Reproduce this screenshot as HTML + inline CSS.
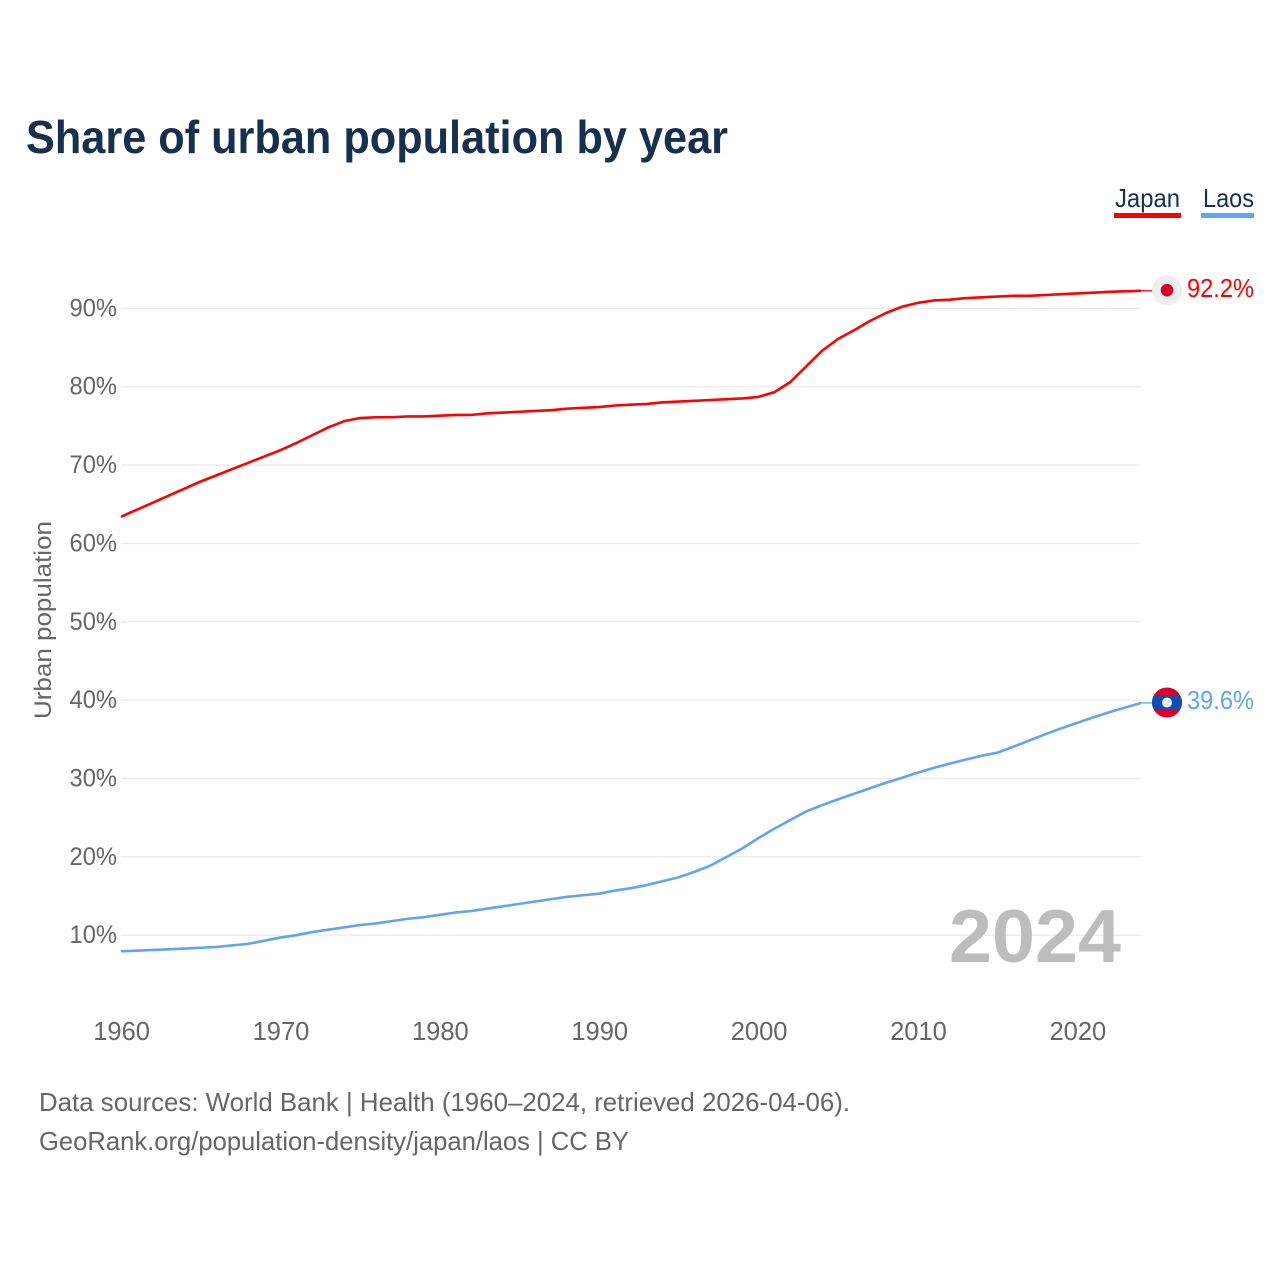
<!DOCTYPE html>
<html lang="en">
<head>
<meta charset="utf-8">
<title>Share of urban population by year</title>
<style>
html,body{margin:0;padding:0;background:#fff;width:1280px;height:1280px;overflow:hidden}
svg{display:block;font-family:"Liberation Sans",sans-serif}
</style>
</head>
<body>
<svg id="chart" xmlns="http://www.w3.org/2000/svg" width="1280" height="1280" viewBox="0 0 1280 1280">
  <defs>
    <clipPath id="laos-clip"><circle id="laos-clip-circle" cx="1167" cy="703" r="15"></circle></clipPath>
  </defs>
  <rect x="0" y="0" width="1280" height="1280" fill="#fff"></rect>
  <text x="26" y="153" font-size="46" font-weight="700" fill="#17304f" textLength="702" lengthAdjust="spacingAndGlyphs">Share of urban population by year</text>

  <text x="1115" y="207" font-size="26" fill="#17304f" textLength="65" lengthAdjust="spacingAndGlyphs">Japan</text>
  <rect x="1114" y="213" width="67" height="5" fill="#ff0000"></rect>
  <text x="1203" y="207" font-size="26" fill="#17304f" textLength="51" lengthAdjust="spacingAndGlyphs">Laos</text>
  <rect x="1201" y="213" width="53" height="5" fill="#60a5ee"></rect>

  <g id="grid"></g>
  <g id="y-ticks"></g>
  <g id="x-ticks"></g>
  <text transform="translate(51 620) rotate(-90)" text-anchor="middle" font-size="24" fill="#666" textLength="198" lengthAdjust="spacingAndGlyphs">Urban population</text>

  <text x="949" y="962" font-size="75" font-weight="700" fill="#bdbdbd" textLength="172" lengthAdjust="spacingAndGlyphs">2024</text>

  <g id="series"></g>

  <g id="marker-japan">
    <circle id="japan-flag-bg" cx="1167" cy="290" r="15" fill="#eeeeee"></circle>
    <circle id="japan-flag-dot" cx="1167" cy="290" r="6.3" fill="#d5002d"></circle>
  </g>
  <g id="marker-laos" clip-path="url(#laos-clip)">
    <rect id="laos-flag-red" x="1152" y="688" width="30" height="30" fill="#dc0028"></rect>
    <rect id="laos-flag-blue" x="1152" y="696" width="30" height="14" fill="#0a50b0"></rect>
    <circle id="laos-flag-dot" cx="1167" cy="703" r="5" fill="#eeeeee"></circle>
  </g>
  <g id="end-labels"></g>

  <text x="39" y="1111" font-size="26" fill="#666" textLength="811" lengthAdjust="spacingAndGlyphs">Data sources: World Bank | Health (1960–2024, retrieved 2026-04-06).</text>
  <text x="39" y="1150" font-size="26" fill="#666" textLength="590" lengthAdjust="spacingAndGlyphs">GeoRank.org/population-density/japan/laos | CC BY</text>
</svg>
<script>
const startYear = 1960;
const yTickValues = [10, 20, 30, 40, 50, 60, 70, 80, 90];
const xTickYears = [1960, 1970, 1980, 1990, 2000, 2010, 2020];
const japanValues = [63.4, 64.3, 65.2, 66.1, 67.0, 67.9, 68.7, 69.5, 70.3, 71.1, 71.9, 72.8, 73.8, 74.8, 75.6, 76.0, 76.1, 76.1, 76.2, 76.2, 76.3, 76.4, 76.4, 76.6, 76.7, 76.8, 76.9, 77.0, 77.2, 77.3, 77.4, 77.6, 77.7, 77.8, 78.0, 78.1, 78.2, 78.3, 78.4, 78.5, 78.7, 79.3, 80.6, 82.6, 84.6, 86.1, 87.2, 88.4, 89.4, 90.2, 90.7, 91.0, 91.1, 91.3, 91.4, 91.5, 91.6, 91.6, 91.7, 91.8, 91.9, 92.0, 92.1, 92.17, 92.24];
const laosValues = [7.95, 8.03, 8.12, 8.2, 8.3, 8.4, 8.5, 8.7, 8.9, 9.3, 9.7, 10.0, 10.4, 10.7, 11.0, 11.3, 11.5, 11.8, 12.1, 12.3, 12.6, 12.9, 13.1, 13.4, 13.7, 14.0, 14.3, 14.6, 14.9, 15.1, 15.3, 15.7, 16.0, 16.4, 16.9, 17.4, 18.1, 18.9, 20.0, 21.1, 22.4, 23.6, 24.7, 25.8, 26.6, 27.35, 28.05, 28.75, 29.45, 30.1, 30.75, 31.35, 31.9, 32.4, 32.9, 33.3, 34.05, 34.85, 35.65, 36.4, 37.1, 37.8, 38.45, 39.05, 39.64];

const SVG_NS = 'http://www.w3.org/2000/svg';
const plotLeft = 121;
const plotRight = 1141;
const endYear = startYear + japanValues.length - 1;

function xScale(year) {
  return plotLeft + (year - startYear) * (plotRight - plotLeft) / (endYear - startYear);
}
function yScale(value) {
  return 935.2 - (value - 10) * 7.836;
}
function linePath(values) {
  return values.map((v, i) => (i ? 'L' : 'M') + xScale(startYear + i).toFixed(2) + ' ' + yScale(v).toFixed(2)).join(' ');
}
function make(tag, parentId) {
  const el = document.createElementNS(SVG_NS, tag);
  document.getElementById(parentId).appendChild(el);
  return el;
}

yTickValues.forEach(v => {
  const line = make('line', 'grid');
  
  
  line.setAttribute('x1', plotLeft);
  line.setAttribute('x2', plotRight);
  line.setAttribute('y1', yScale(v));
  line.setAttribute('y2', yScale(v));
  line.setAttribute('stroke', '#ececec');
  line.setAttribute('stroke-width', '1.4');

  const label = make('text', 'y-ticks');
  
  
  label.setAttribute('x', '117');
  label.setAttribute('y', yScale(v) + 8);
  label.setAttribute('text-anchor', 'end');
  label.setAttribute('font-size', '25');
  label.setAttribute('fill', '#666');
  label.setAttribute('textLength', '47.5');
  label.setAttribute('lengthAdjust', 'spacingAndGlyphs');
  label.textContent = v + '%';
});

xTickYears.forEach(year => {
  const label = make('text', 'x-ticks');
  
  
  label.setAttribute('x', xScale(year) + 0.6);
  label.setAttribute('y', '1040');
  label.setAttribute('text-anchor', 'middle');
  label.setAttribute('font-size', '25.5');
  label.setAttribute('fill', '#666');
  label.textContent = year;
});

function drawSeries(key, values, color, valueX) {
  const last = values[values.length - 1];
  const path = make('path', 'series');
  
  
  path.setAttribute('d', linePath(values));
  path.setAttribute('fill', 'none');
  path.setAttribute('stroke', color);
  path.setAttribute('stroke-width', '2.6');
  path.setAttribute('stroke-linejoin', 'round');

  const connector = make('line', 'series');
  
  
  connector.setAttribute('x1', plotRight);
  connector.setAttribute('x2', '1153');
  connector.setAttribute('y1', yScale(last));
  connector.setAttribute('y2', yScale(last));
  connector.setAttribute('stroke', color);
  connector.setAttribute('stroke-width', '1.3');

  const label = make('text', 'end-labels');
  
  
  label.setAttribute('x', valueX);
  label.setAttribute('y', yScale(last) + 6.2);
  label.setAttribute('font-size', '26');
  label.setAttribute('fill', color);
  label.setAttribute('textLength', '67');
  label.setAttribute('lengthAdjust', 'spacingAndGlyphs');
  label.textContent = last.toFixed(1) + '%';
}
drawSeries('japan', japanValues, '#ff0000', 1187);
drawSeries('laos', laosValues, '#60a5ee', 1187);

const japanEndY = yScale(japanValues[japanValues.length - 1]) - 0.6;
const laosEndY = yScale(laosValues[laosValues.length - 1]) - 0.4;
document.getElementById('japan-flag-bg').setAttribute('cy', japanEndY);
document.getElementById('japan-flag-dot').setAttribute('cy', japanEndY);
document.getElementById('laos-clip-circle').setAttribute('cy', laosEndY);
document.getElementById('laos-flag-red').setAttribute('y', laosEndY - 15);
document.getElementById('laos-flag-blue').setAttribute('y', laosEndY - 7);
document.getElementById('laos-flag-dot').setAttribute('cy', laosEndY);
</script>
</body>
</html>
